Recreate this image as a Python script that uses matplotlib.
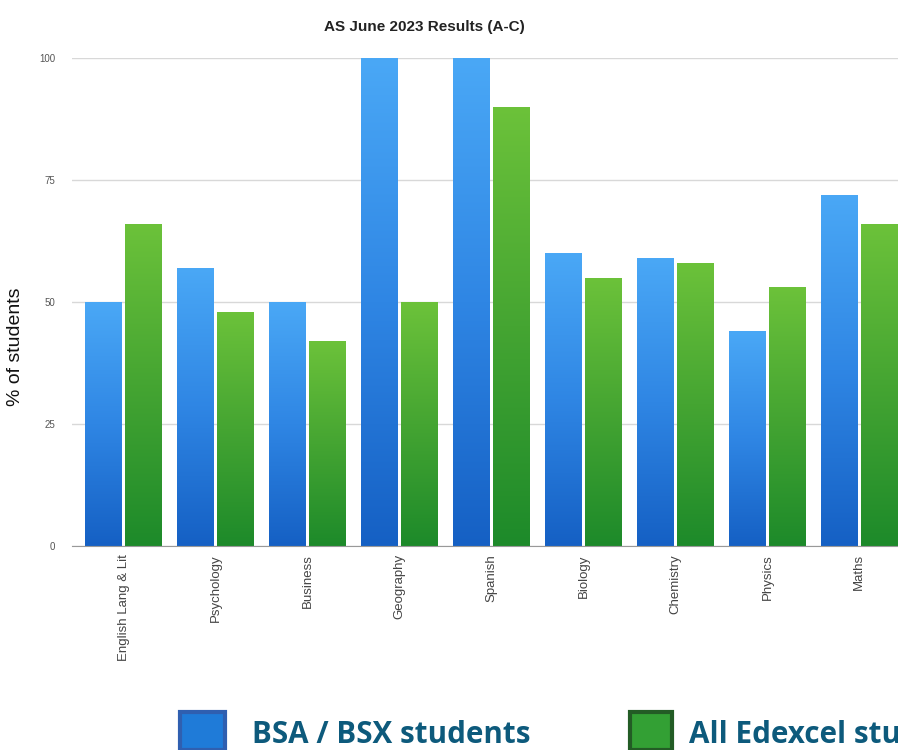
import numpy as np
import matplotlib
matplotlib.use('Agg')
import matplotlib.pyplot as plt
from matplotlib.colors import LinearSegmentedColormap
from matplotlib.patches import Rectangle

subjects = ['English Lang & Lit', 'Psychology', 'Business', 'Geography', 'Spanish',
            'Biology', 'Chemistry', 'Physics', 'Maths']
bsa = [50, 57, 50, 100, 100, 60, 59, 44, 72]
edexcel = [66, 48, 42, 50, 90, 55, 58, 53, 66]
yticks = [0, 25, 50, 75, 100]

plt.rcParams['font.family'] = ['Liberation Sans', 'DejaVu Sans']

fig = plt.figure(figsize=(8.98, 7.5), dpi=100)
ax = fig.add_axes([72 / 898, 204 / 750, 1 - 72 / 898, 488 / 750])

blue_cm = LinearSegmentedColormap.from_list('b', ['#1560c4', '#2f86e4', '#4aa8f6'])
green_cm = LinearSegmentedColormap.from_list('g', ['#1d8a2a', '#45a532', '#6cc23a'])
grad = np.linspace(0, 1, 256).reshape(-1, 1)

x = np.arange(len(subjects))
w = 0.40
gap = 0.02

for vals, offs, cmap in [(bsa, -w / 2 - gap, blue_cm), (edexcel, w / 2 + gap, green_cm)]:
    bars = ax.bar(x + offs, vals, width=w, color='none', edgecolor='none', zorder=2)
    for b in bars:
        x0 = b.get_x()
        h = b.get_height()
        im = ax.imshow(grad, cmap=cmap, origin='lower', aspect='auto',
                       extent=[x0, x0 + b.get_width(), 0, h], zorder=2)
        im.set_clip_path(b)

ax.set_xlim(-0.56, 8.42)
ax.set_ylim(0, 100)
ax.set_yticks(yticks)
ax.set_yticklabels([str(t) for t in yticks], fontsize=7, color='#555555')
ax.set_xticks(x)
ax.set_xticklabels(subjects, rotation=90, fontsize=9.5, color='#444444', va='top')
ax.tick_params(axis='y', length=0, pad=12)
ax.tick_params(axis='x', length=0, pad=6)
ax.grid(axis='y', color='#d8d8d8', lw=1, zorder=0)
ax.set_axisbelow(True)
for s in ['top', 'right', 'left']:
    ax.spines[s].set_visible(False)
ax.spines['bottom'].set_color('#999999')

fig.text(424 / 898, 1 - 27 / 750, 'AS June 2023 Results (A-C)', ha='center', va='center',
         fontsize=11, fontweight='bold', color='#222222')
fig.text(15 / 898, 1 - 347 / 750, '% of students', rotation=90, ha='center', va='center',
         fontsize=14, color='#111111')

# legend at the bottom
fig.patches.append(Rectangle((180 / 898, 0), 45 / 898, 38 / 750, transform=fig.transFigure,
                             facecolor='#1f7bd8', edgecolor='#2f5fb0', lw=3))
fig.text(252 / 898, 0.0, 'BSA / BSX students', ha='left', va='bottom',
         fontsize=21.3, fontweight='bold', color='#0d5a7c', family=['Open Sans', 'DejaVu Sans'])
fig.patches.append(Rectangle((630 / 898, 0), 42 / 898, 38 / 750, transform=fig.transFigure,
                             facecolor='#33a034', edgecolor='#235c25', lw=3))
fig.text(689 / 898, 0.0, 'All Edexcel students', ha='left', va='bottom',
         fontsize=21.3, fontweight='bold', color='#0d5a7c', family=['Open Sans', 'DejaVu Sans'])

fig.savefig('out.png', dpi=100)
